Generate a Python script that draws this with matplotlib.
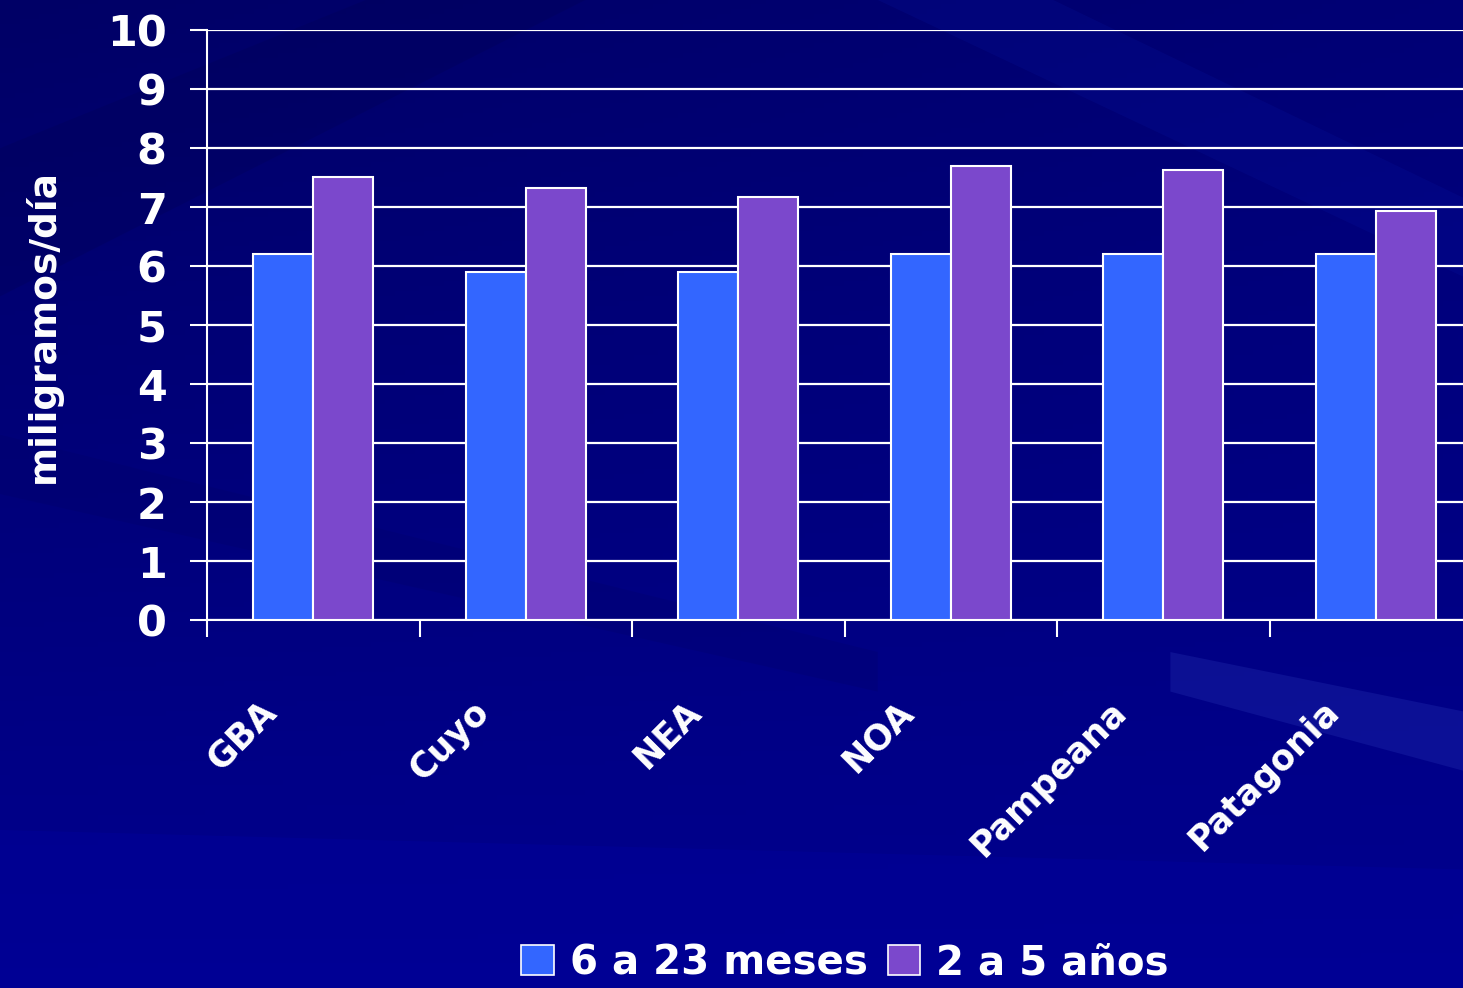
import numpy as np
import matplotlib
matplotlib.use("Agg")
import matplotlib.pyplot as plt
import matplotlib.transforms as mtransforms
from matplotlib.patches import Patch, Polygon

# data
regions = ["GBA", "Cuyo", "NEA", "NOA", "Pampeana", "Patagonia"]
meses_6_23 = [6.2, 5.9, 5.9, 6.2, 6.2, 6.2]
anios_2_5 = [7.5, 7.33, 7.17, 7.7, 7.63, 6.93]
series_labels = ["6 a 23 meses", "2 a 5 años"]
y_ticks = list(range(0, 11))

BLUE = "#3366FF"
PURPLE = "#7B48CC"
FONT = ["DejaVu Sans"]

plt.rcParams["font.family"] = FONT
plt.rcParams["font.weight"] = "bold"

W, H = 1463, 988
fig = plt.figure(figsize=(W / 100, H / 100), dpi=100)

# background: dark navy gradient with a few soft diagonal streaks
bg = fig.add_axes([0, 0, 1, 1], zorder=-10)
bg.set_axis_off()
yy, xx = np.mgrid[0:1:200j, 0:1:300j]
base = 0.40 + 0.16 * yy + 0.06 * xx * (1 - yy)
img = np.zeros((200, 300, 3))
img[..., 2] = base
bg.imshow(img, extent=[0, 1, 0, 1], origin="upper", aspect="auto")
bg.set_xlim(0, 1)
bg.set_ylim(0, 1)
streaks = [
    ([(0.0, 0.85), (0.25, 1.0), (0.40, 1.0), (0.0, 0.70)], "#000050", 0.25),
    ([(0.60, 1.0), (1.0, 0.72), (1.0, 0.80), (0.72, 1.0)], "#0a18a8", 0.18),
    ([(0.0, 0.50), (0.6, 0.30), (0.6, 0.34), (0.0, 0.56)], "#000060", 0.20),
    ([(0.80, 0.34), (1.0, 0.28), (1.0, 0.22), (0.80, 0.30)], "#3040C0", 0.25),
    ([(0.0, 0.16), (1.0, 0.12), (1.0, 0.0), (0.0, 0.0)], "#0000A0", 0.35),
]
for pts, col, a in streaks:
    bg.add_patch(Polygon(pts, closed=True, facecolor=col, edgecolor="none", alpha=a))

# main axes; right edge is cropped like in the reference
left_px, right_px, top_px, bot_px = 207, W, 30, 620
ax = fig.add_axes([left_px / W, 1 - bot_px / H, (right_px - left_px) / W, (bot_px - top_px) / H])
ax.set_facecolor("none")

cat_px = 212.5
x = np.arange(len(regions))
bw = 60 / cat_px
ax.bar(x - bw / 2, meses_6_23, width=bw, color=BLUE, edgecolor="white", linewidth=1.5, zorder=3)
ax.bar(x + bw / 2, anios_2_5, width=bw, color=PURPLE, edgecolor="white", linewidth=1.5, zorder=3)

ax.set_yticks(y_ticks)
ax.set_yticklabels([str(t) for t in y_ticks], fontsize=31, color="white", fontweight="bold")
ax.yaxis.grid(True, color="white", linewidth=1.6, zorder=0)
ax.set_axisbelow(True)

ax.set_xticks(np.arange(len(regions) + 1) - 0.5)
ax.set_xticklabels([])
ax.set_xticks(x, minor=True)
ax.set_xticklabels(regions, minor=True, rotation=45, ha="right", va="center",
                   rotation_mode="anchor", fontsize=25, color="white", fontweight="bold")
ax.tick_params(axis="x", which="minor", length=0, pad=62)
ax.tick_params(axis="x", which="major", direction="out", length=12, width=1.5, color="white")
ax.tick_params(axis="y", direction="out", length=12, width=1.5, color="white", pad=17)
shift = mtransforms.ScaledTranslation(-0.42, 0, fig.dpi_scale_trans)
for lab in ax.get_xticklabels(minor=True):
    lab.set_transform(lab.get_transform() + shift)

# limits after the ticks so the tick positions do not widen the view
ax.set_xlim(-0.5, -0.5 + (right_px - left_px) / cat_px)
ax.set_ylim(0, 10)

for side in ["top", "right"]:
    ax.spines[side].set_visible(False)
for side in ["left", "bottom"]:
    ax.spines[side].set_color("white")
    ax.spines[side].set_linewidth(1.5)

fig.text(43 / W, 1 - 326 / H, "miligramos/día", rotation=90, ha="center", va="center",
         fontsize=27, color="white", fontweight="bold")

handles = [Patch(facecolor=BLUE, edgecolor="white", linewidth=1.2),
           Patch(facecolor=PURPLE, edgecolor="white", linewidth=1.2)]
leg = fig.legend(handles, series_labels, loc="center", bbox_to_anchor=(845 / W, 1 - 963 / H),
                 ncol=2, frameon=False, fontsize=29, handlelength=0.8, handleheight=0.8,
                 handletextpad=0.4, columnspacing=0.5, borderpad=0)
for t in leg.get_texts():
    t.set_color("white")
    t.set_fontweight("bold")

fig.savefig("out.png", dpi=100)
